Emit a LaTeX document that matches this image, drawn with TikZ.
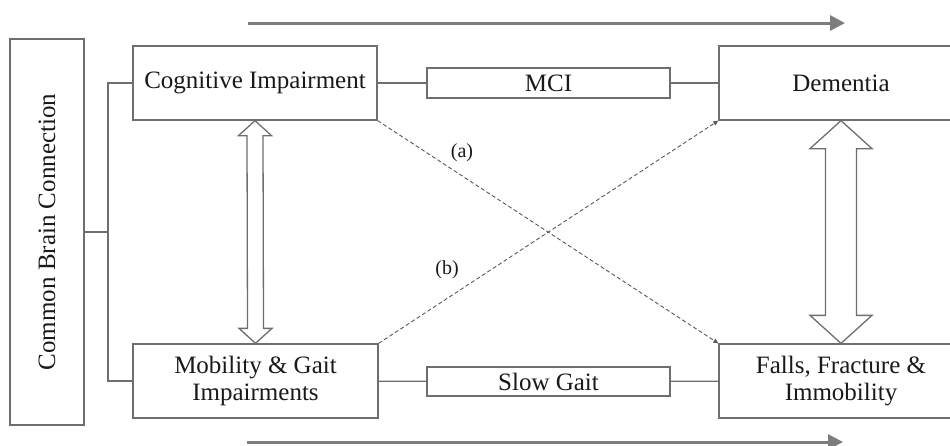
\documentclass[tikz,border=0pt]{standalone}
\usepackage{fontspec}
\setmainfont{Liberation Serif}
\usetikzlibrary{arrows.meta,calc}
\definecolor{boxgray}{RGB}{110,110,110}
\definecolor{arrgray}{RGB}{125,125,125}
\definecolor{txtdark}{RGB}{25,25,25}

\tikzset{
  box/.style={draw=boxgray, line width=1.3pt, text=txtdark, inner sep=0pt, align=center},
  link/.style={draw=boxgray, line width=1.3pt},
  crosslink/.style={draw=black!65, line width=0.9pt, dash pattern=on 4pt off 2.5pt, -{Triangle[length=5pt,width=4.5pt]}},
  timeline/.style={draw=arrgray, line width=3pt, -{Triangle[length=15pt,width=15pt]}},
  hollow/.style={draw=boxgray, line width=1.3pt, fill=white, line join=miter},
  lbl/.style={text=txtdark, font=\fontsize{20}{22}\selectfont, inner sep=1pt},
}
% hollow two-headed arrow: top anchor, bottom anchor, half shaft, half head, head length
\newcommand{\twoway}[5]{%
  \draw[hollow] (#1) -- ($(#1)+(#4,#5)$) -- ($(#1)+(#3,#5)$) -- ($(#2)+(#3,-#5)$)
    -- ($(#2)+(#4,-#5)$) -- (#2) -- ($(#2)+(-#4,-#5)$) -- ($(#2)+(-#3,-#5)$)
    -- ($(#1)+(-#3,#5)$) -- ($(#1)+(-#4,#5)$) -- cycle;}

\begin{document}
\begin{tikzpicture}[x=1pt, y=-1pt, font=\fontsize{25}{27}\selectfont]
  \useasboundingbox (0,0) rectangle (950,445);
  \clip (0,0) rectangle (950,445);
  % time arrows
  \coordinate (topstart) at (248,23);
  \coordinate (topend) at (845,23);
  \coordinate (botstart) at (247,442);
  \coordinate (botend) at (843,442);
  \draw[timeline] (topstart) -- (topend);
  \draw[timeline] (botstart) -- (botend);
  % boxes
  \node[box, rotate=90, minimum width=386pt, minimum height=74pt] (brain) at (47,232) {Common Brain Connection};
  \node[box, minimum width=244pt, minimum height=74pt] (cog) at (255,83) {Cognitive Impairment};
  \node[box, minimum width=243pt, minimum height=30pt] (mci) at (548.5,83) {MCI};
  \node[box, minimum width=244pt, minimum height=74pt] (dem) at (841,83) {Dementia};
  \node[box, minimum width=245pt, minimum height=74pt] (mob) at (255.5,381) {Mobility \& Gait\\Impairments};
  \node[box, minimum width=243pt, minimum height=29pt] (slow) at (548.5,381.5) {Slow Gait};
  \node[box, minimum width=244pt, minimum height=74pt] (falls) at (841,381) {Falls, Fracture \&\\Immobility};
  % bracket from the common box
  \coordinate (fork) at (108,232);
  \draw[link] (brain.south) -- (fork);
  \draw[link] (cog.west) -| (fork) |- (mob.west);
  % chains
  \draw[link] (cog) -- (mci);
  \draw[link] (mci) -- (dem);
  \draw[link] (mob) -- (slow);
  \draw[link] (slow) -- (falls);
  % two-way arrows
  \twoway{cog.south}{mob.north}{8}{16.5}{15}
  \twoway{dem.south}{falls.north}{15.5}{31}{28}
  % cross paths
  \draw[crosslink] (cog.south east) -- (falls.north west);
  \draw[crosslink] (mob.north east) -- (dem.south west);
  \node[lbl] (pa) at (462,153) {(a)};
  \node[lbl] (pb) at (447,270) {(b)};
\end{tikzpicture}
\end{document}
